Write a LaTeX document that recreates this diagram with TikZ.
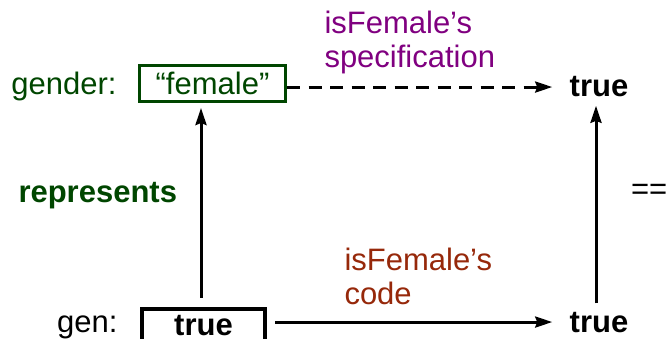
\documentclass[tikz,border=0pt]{standalone}
\usepackage{fontspec}
\setmainfont{Liberation Sans}
\usepackage{tikz}
\usetikzlibrary{arrows.meta,positioning}
\definecolor{repgreen}{RGB}{0,70,0}
\definecolor{specpurple}{RGB}{128,0,128}
\definecolor{codebrown}{RGB}{150,40,10}

\begin{document}
\begin{tikzpicture}[x=1pt,y=-1pt,->,>={Stealth[length=17pt,width=11pt,inset=2pt]},line width=3pt,
  font=\fontsize{31}{34}\selectfont,inner sep=0pt,
  valbox/.style={draw,inner sep=0pt},
  result/.style={font=\fontsize{31}{34}\selectfont\bfseries,inner xsep=16pt,inner ysep=7pt}]
  \useasboundingbox (0,0) rectangle (667,339);

  \node[valbox,draw=repgreen,text=repgreen,minimum width=146pt,minimum height=36pt] (female) at (212.5,83.5) {“female”};
  \node[text=repgreen,base left=20pt of female] (gender) {gender:};
  \node[valbox,line width=4pt,minimum width=123pt,text height=26pt,text depth=14pt,font=\fontsize{31}{34}\selectfont\bfseries,anchor=base] (gen) at (203.5,335) {true};
  \node[base left=21pt of gen,yshift=3pt] (genname) {gen:};
  \node[result,anchor=base] (spec) at (599,97) {true};
  \node[result,anchor=base] (impl) at (599,332) {true};
  \node[text=repgreen,font=\fontsize{31}{34}\selectfont\bfseries,anchor=base west] (represents) at (17,203) {represents};
  \node[anchor=base west] (eq) at (629.5,200) {==};
  \node[text=specpurple,align=left,anchor=north west] (specnote) at (323,9.5) {isFemale’s\\specification};
  \node[text=codebrown,align=left,anchor=north west] (codenote) at (343,247) {isFemale’s\\code};

  \coordinate (gentop) at ([xshift=-2.5pt]gen.north);
  \coordinate (impltop) at ([xshift=-3pt]impl.north);

  \path[dash pattern=on 13pt off 8.5pt] (female.east |- spec.west) edge (spec.west);
  \path (gen.east |- impl.west) edge[shorten <=8pt] (impl.west);
  \path (gentop) edge[shorten <=9pt,shorten >=5pt] (gentop |- female.south);
  \path (impltop) edge (impltop |- spec.south);

\end{tikzpicture}
\end{document}
